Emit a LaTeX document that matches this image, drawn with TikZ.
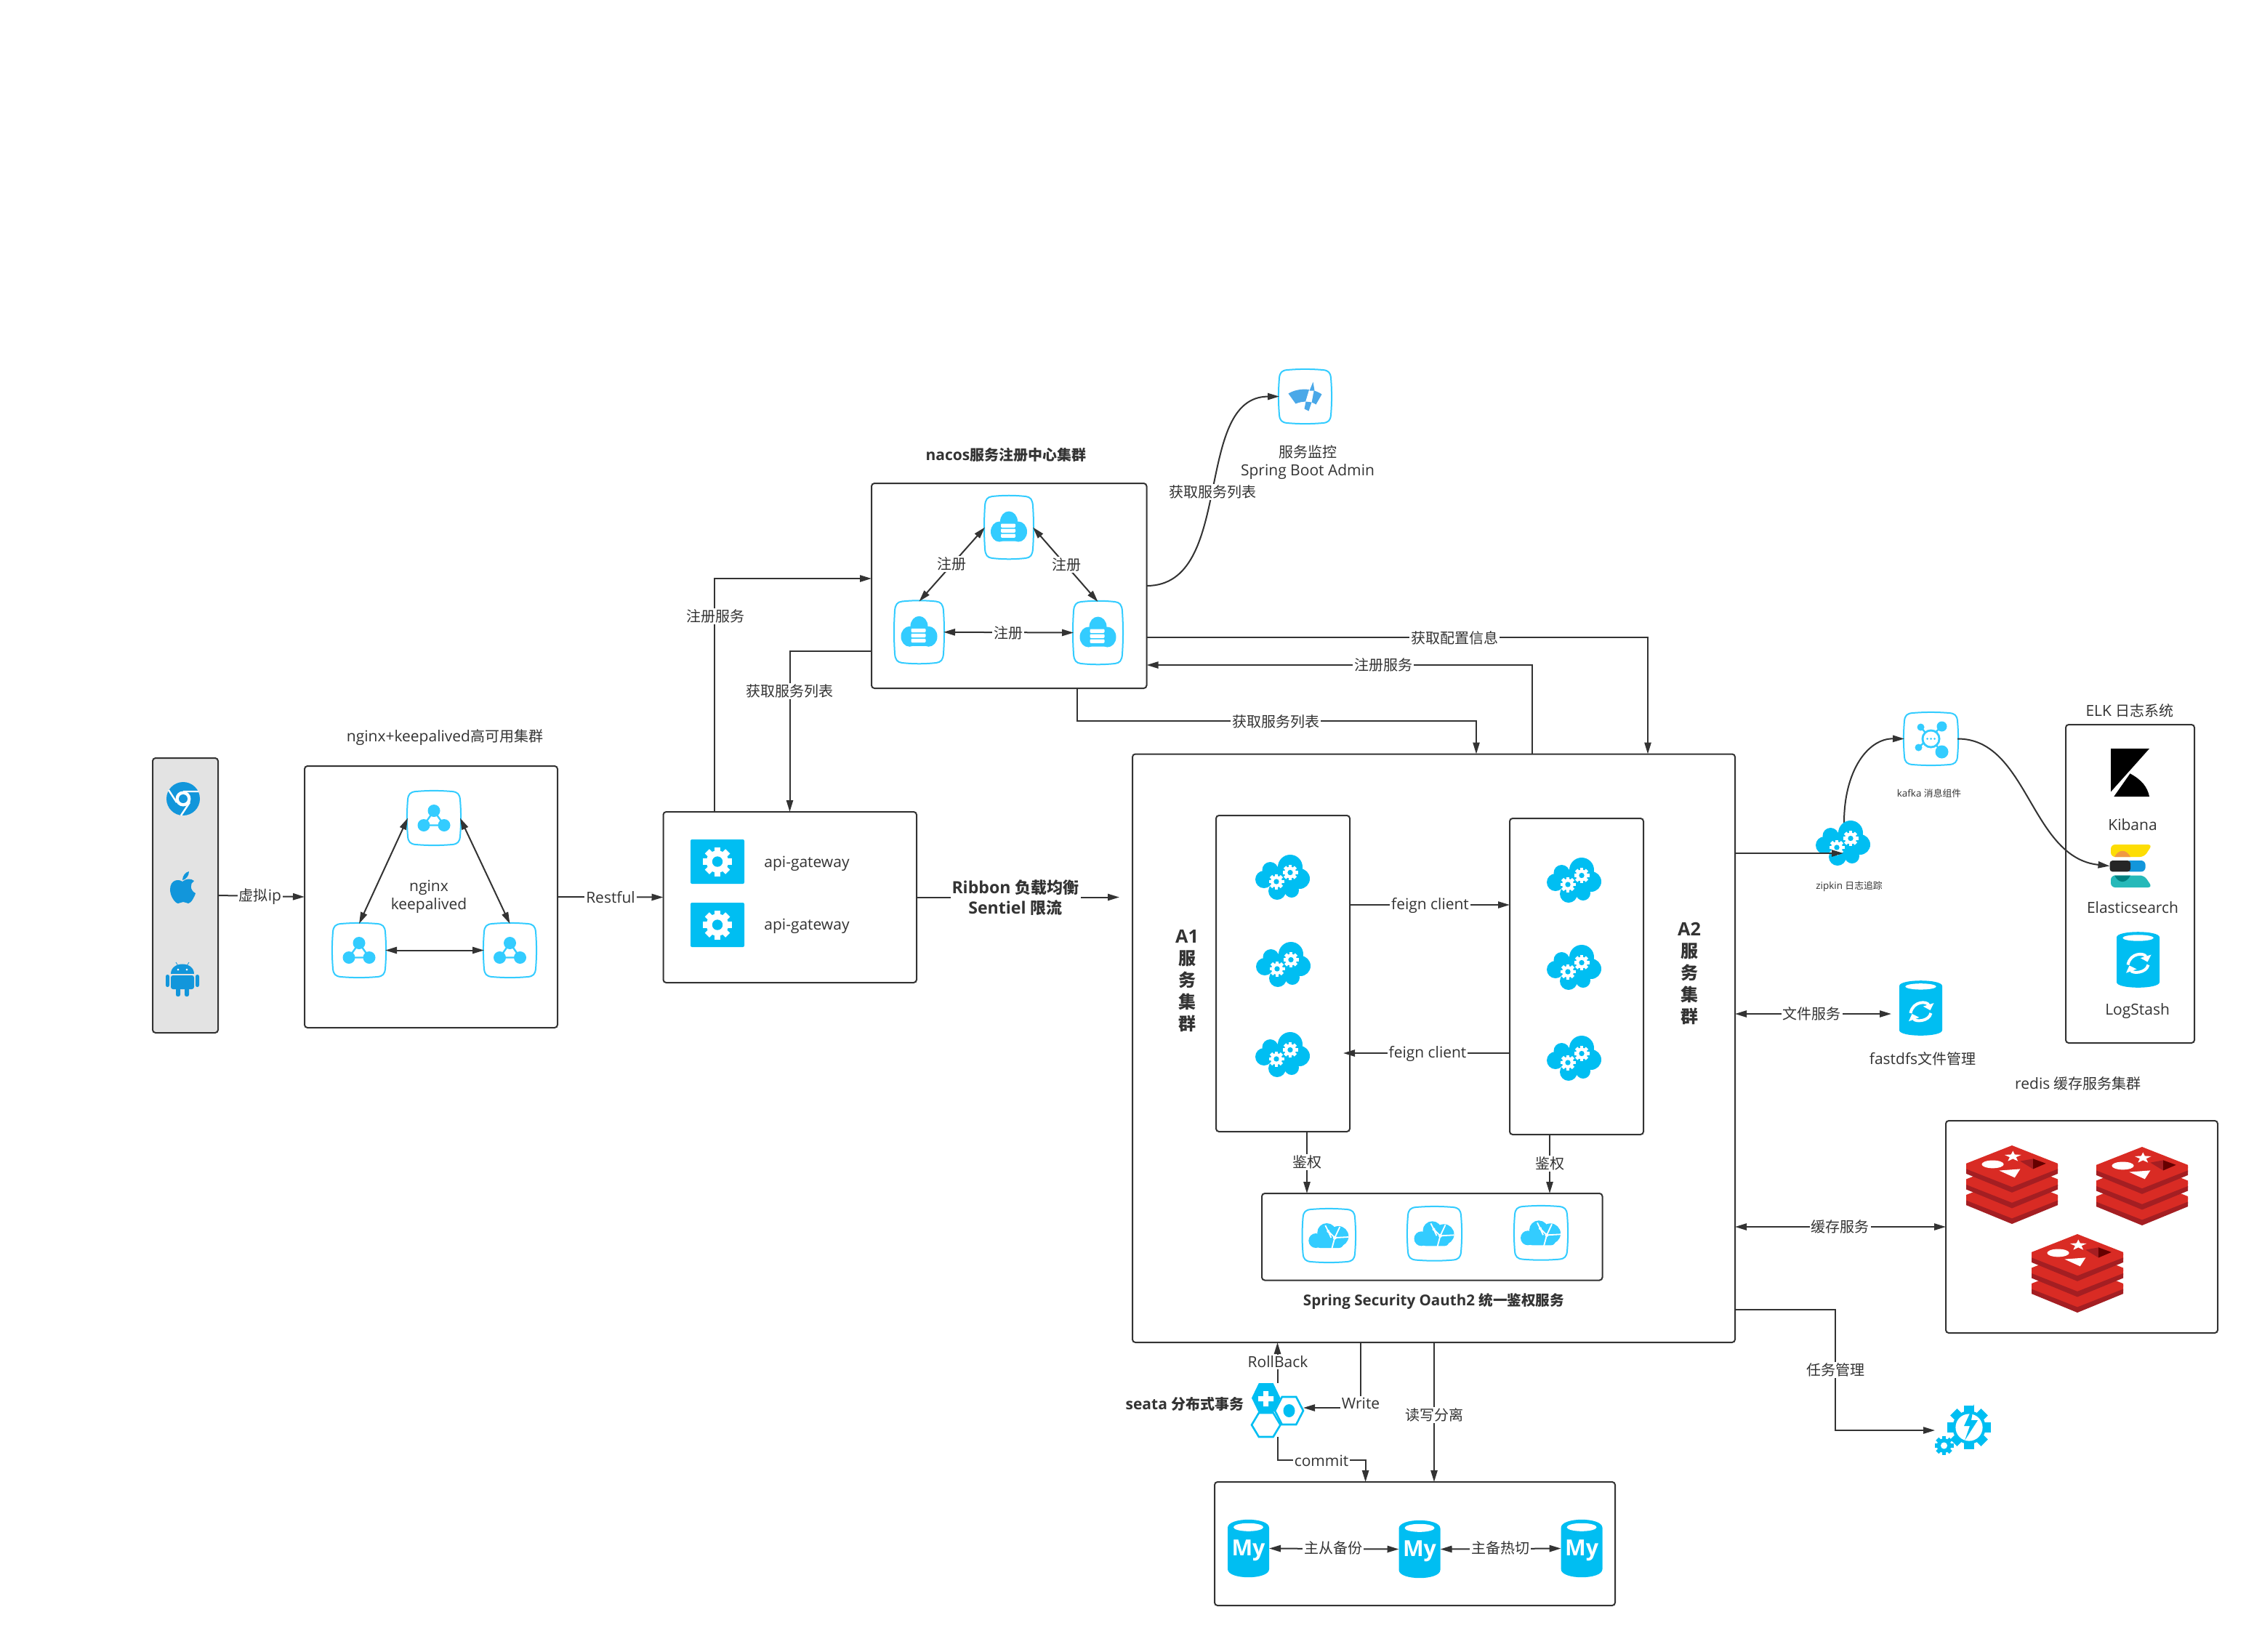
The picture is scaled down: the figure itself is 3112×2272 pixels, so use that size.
\documentclass[tikz,border=0pt]{standalone}
\usepackage{fontspec}
\setmainfont[Scale=1.05]{Open Sans}
\newfontfamily\cjk{Noto Sans CJK SC}
\newcommand\zh[1]{{\cjk #1}}
\usetikzlibrary{arrows.meta,calc}
\definecolor{txt}{HTML}{333333}
\definecolor{cyanb}{HTML}{00BEF2}
\definecolor{framec}{HTML}{33CCFF}
\definecolor{platc}{HTML}{1296DB}
\definecolor{monc}{HTML}{4AA8E8}
\definecolor{redisr}{HTML}{D92B24}
\definecolor{redisd}{HTML}{A41E22}
\tikzset{
 panel/.style={draw=txt,line width=1pt,rounded corners=2pt,fill=white,inner sep=0pt,outer sep=0pt},
 anchorbox/.style={inner sep=0pt,outer sep=0pt},
 conn/.style={draw=txt,line width=1pt,-{Triangle[length=8pt,width=4.6pt]}},
 both/.style={draw=txt,line width=1pt,{Triangle[length=8pt,width=4.6pt]}-{Triangle[length=8pt,width=4.6pt]}},
 lbl/.style={fill=white,inner sep=1pt,text=txt,font=\fontsize{10}{12}\selectfont},
 ttl/.style={inner sep=0pt,text=txt,align=center,font=\fontsize{10}{12.5}\selectfont},
 btl/.style={inner sep=0pt,text=txt,align=center,font=\bfseries\fontsize{10}{12.5}\selectfont},
 tiny/.style={inner sep=0pt,text=txt,font=\fontsize{6.4}{8}\selectfont},
 frameline/.style={draw=framec,line width=1pt,fill=white},
}
\newcommand\BX[6]{\node[#6,minimum width={(#4-#2)*0.5pt},minimum height={(#5-#3)*0.5pt}] (#1) at ({(#2+#4)/2},{(#3+#5)/2}) {};}
\newcommand\Frame[5]{%
 \BX{#1}{#2}{#3}{#4}{#5}{anchorbox}
 \begin{scope}[shift={(#2,#3)},xscale=#4-#2,yscale=#5-#3]
 \path[frameline] (.15,0) .. controls (.4,-.02) and (.6,-.02) .. (.85,0) .. controls (.95,.01) and (.99,.05) .. (1,.15) .. controls (1.02,.4) and (1.02,.6) .. (1,.85) .. controls (.99,.95) and (.95,.99) .. (.85,1) .. controls (.6,1.02) and (.4,1.02) .. (.15,1) .. controls (.05,.99) and (.01,.95) .. (0,.85) .. controls (-.02,.6) and (-.02,.4) .. (0,.15) .. controls (.01,.05) and (.05,.01) .. (.15,0) -- cycle;
 \end{scope}}
\newcommand\Gear[6]{%
 \begin{scope}[shift={(#1,#2)}]
 \foreach \a in {0,45,...,315}{\fill[#4,rotate=\a] (-.22*#3,0) rectangle (.22*#3,#3);}
 \fill[#4] (0,0) circle ({.76*#3});
 \fill[#5] (0,0) circle ({#6*#3});
 \end{scope}}
\newcommand\NginxIc[1]{%
 \begin{scope}[shift={(#1.center)}]
 \draw[framec,line width=1.2pt] (0,-10) -- (-14,10) -- (14,10) -- cycle;
 \fill[framec] (0,-10) circle (8.5) (-14,10) circle (8.5) (14,10) circle (8.5);
 \end{scope}}
\newcommand\NacosIc[1]{%
 \begin{scope}[shift={(#1.center)}]
 \fill[framec] (0,-8) ellipse (12 and 14) (-13,6) ellipse (12 and 14) (13,6) ellipse (12 and 14);
 \fill[framec,rounded corners=3pt] (-14,0) rectangle (14,19);
 \foreach \y in {-5,2,9}{\fill[white,rounded corners=.6pt] (-11,\y) rectangle (9,\y+5.4);}
 \end{scope}}
\newcommand\OauthIc[1]{%
 \begin{scope}[shift={(#1.center)}]
 \fill[framec] (-18,7) circle (10) (-3,-4) circle (13) (13,1) circle (14);
 \fill[framec,rounded corners=3pt] (-18,6) rectangle (20,17);
 \draw[white,line width=.9pt] (-5,-14) -- (-1,-6) -- (8,3) -- (27,2) (8,3) -- (4,18) (15,-12) -- (8,3) (-1,-6) -- (3,3);
 \fill[white] (-1,-6) circle (2) (8,3) circle (2.5);
 \end{scope}}
\newcommand\CloudGear[3]{%
 \BX{#1}{#2-37.5}{#3-31.5}{#2+37.5}{#3+31.5}{anchorbox}
 \begin{scope}[shift={(#2,#3)}]
 \fill[cyanb] (10,-14) circle (17) (-17.5,-10) circle (11) (-26,3) circle (12) (23,2) circle (14) (-8,19) circle (12) (12,18) circle (10) (0,2) circle (18);
 \Gear{-9}{6}{10.5}{white}{cyanb}{.35}
 \Gear{10}{-6.5}{10.5}{white}{cyanb}{.35}
 \end{scope}}
\newcommand\Cyl[5]{%
 \BX{#1}{#2}{#3}{#4}{#5}{anchorbox}
 \begin{scope}[shift={(#2,#3)},xscale=#4-#2,yscale=#5-#3]
 \fill[cyanb] (0,.1) .. controls (0,-.03) and (1,-.03) .. (1,.1) -- (1,.9) .. controls (1,1.03) and (0,1.03) .. (0,.9) -- cycle;
 \fill[white] (.5,.11) ellipse (.36 and .055);
 \end{scope}}
\newcommand\Sync[1]{%
 \begin{scope}[shift={(#1.center)},yshift=-2pt]
 \draw[white,line width=2pt,-{Triangle[length=4pt,width=7.5pt]}] (-14,3) .. controls (-11,-14) and (9,-14) .. (13,-1);
 \draw[white,line width=2pt,-{Triangle[length=4pt,width=7.5pt]}] (14,3) .. controls (11,15) and (-8,15) .. (-12,4);
 \end{scope}}
\newcommand\MyCyl[5]{%
 \BX{#1}{#2}{#3}{#4}{#5}{anchorbox}
 \begin{scope}[shift={(#2,#3)},xscale=#4-#2,yscale=#5-#3]
 \fill[cyanb] (0,.14) .. controls (0,-.05) and (1,-.05) .. (1,.14) -- (1,.86) .. controls (1,1.05) and (0,1.05) .. (0,.86) -- cycle;
 \fill[white] (.5,.13) ellipse (.36 and .07);
 \end{scope}}
\newcommand\Redis[2]{%
 \begin{scope}[shift={(#1,#2)},xscale=126,yscale=108]
 \foreach \o in {.4,.2,0}{
  \begin{scope}[shift={(0,\o)}]
  \fill[redisr] (0,.25) -- (0,.32) -- (.5,.56) -- (1,.32) -- (1,.25) -- cycle;
  \fill[redisd] (0,.30) -- (0,.36) -- (.5,.6) -- (1,.36) -- (1,.30) -- (.5,.53) -- cycle;
  \fill[redisr] (.5,0) -- (1,.23) -- (1,.27) -- (.5,.5) -- (0,.27) -- (0,.23) -- cycle;
  \end{scope}}
 \fill[white] (.29,.24) ellipse (.12 and .05);
 \fill[white] (.51,.07) -- (.53,.115) -- (.60,.12) -- (.545,.15) -- (.565,.2) -- (.51,.17) -- (.455,.2) -- (.475,.15) -- (.42,.12) -- (.49,.115) -- cycle;
 \fill[white] (.36,.32) -- (.59,.30) -- (.53,.41) -- cycle;
 \fill[redisd] (.59,.2) -- (.73,.17) -- (.87,.23) -- (.73,.3) -- cycle;
 \fill[red!40!black] (.73,.17) -- (.87,.23) -- (.73,.3) -- cycle;
 \end{scope}}
\newcommand\Hex[5]{%
 \begin{scope}[shift={(#1,#2)},xscale=#3,yscale=#4]
 \path[#5] (.25,0) -- (.75,0) -- (1,.5) -- (.75,1) -- (.25,1) -- (0,.5) -- cycle;
 \end{scope}}
\begin{document}
\begin{tikzpicture}[x=0.5pt,y=-0.5pt]
\useasboundingbox (0,0) rectangle (3112,2272);
\fill[white] (0,0) rectangle (3112,2272);

%% panels
\BX{client}{210}{1043}{300}{1421}{panel,fill=black!11}
\BX{ngbox}{419}{1054}{767}{1414}{panel}
\BX{api}{912.5}{1117}{1261}{1352}{panel}
\BX{nacos}{1199}{665}{1577.5}{947}{panel}
\BX{main}{1558}{1037.5}{2387}{1847}{panel}
\BX{aone}{1673}{1122}{1857}{1557}{panel}
\BX{atwo}{2077}{1126}{2261}{1561}{panel}
\BX{oauth}{1736}{1642}{2204.5}{1761.5}{panel}
\BX{elk}{2842}{997}{3019}{1435}{panel}
\BX{redis}{2677}{1542}{3051}{1834}{panel}
\BX{db}{1671}{2039}{2222}{2209}{panel}

%% client platform icons
\begin{scope}[shift={(252,1099)}]
 \fill[platc] (0,0) circle (23);
 \fill[white] (0,0) circle (10.5);
 \fill[platc] (0,0) circle (6);
 \draw[white,line width=1.2pt] (0,-10) -- (21,-10) (-9,5) -- (-20,-12) (9,5) -- (-3,23);
\end{scope}
\begin{scope}[shift={(251,1221)}]
 \fill[platc] (0,-8) .. controls (-5,-12) and (-17,-11) .. (-17,3) .. controls (-17,12) and (-10,22) .. (-6,22) .. controls (-3,22) and (-2,20) .. (1,20) .. controls (4,20) and (6,22) .. (8,22) .. controls (12,22) and (17,12) .. (18,8) .. controls (10,4) and (10,-6) .. (16,-9) .. controls (12,-13) and (4,-12) .. (0,-8) -- cycle;
 \fill[platc] (0,-10) .. controls (0,-16) and (4,-21) .. (9,-22) .. controls (9,-16) and (5,-11) .. (0,-10) -- cycle;
\end{scope}
\begin{scope}[shift={(251,1347)}]
 \fill[platc] (-16,-7) .. controls (-16,-25) and (16,-25) .. (16,-7) -- cycle;
 \fill[platc,rounded corners=1.5pt] (-16,-5) rectangle (16,14);
 \fill[platc,rounded corners=1.2pt] (-23,-6) rectangle (-18,11) (18,-6) rectangle (23,11) (-9,12) rectangle (-3,24) (3,12) rectangle (9,24);
 \draw[platc,line width=.4pt] (-9,-23) -- (-6,-18) (9,-23) -- (6,-18);
 \fill[white] (-6,-13) circle (1.5) (6,-13) circle (1.5);
\end{scope}

%% nginx cluster
\Frame{ngT}{561}{1089}{633}{1162}
\Frame{ngL}{458}{1271}{530}{1344}
\Frame{ngR}{666}{1271}{737}{1344}
\NginxIc{ngT}\NginxIc{ngL}\NginxIc{ngR}
\draw[both] (ngT.west) -- (ngL.north);
\draw[both] (ngT.east) -- (ngR.north);
\draw[both] (ngL.east) -- (ngR.west);
\node[ttl] (ngtxt) at (590,1234) {nginx\\keepalived};
\node[ttl] (ngtitle) at (612,1015) {nginx+keepalived\zh{高可用集群}};

%% api gateway
\BX{gwA}{950}{1155}{1024}{1216}{anchorbox,fill=cyanb,rounded corners=1pt}
\BX{gwB}{950}{1242}{1024}{1303}{anchorbox,fill=cyanb,rounded corners=1pt}
\Gear{987}{1185.5}{20}{white}{cyanb}{.36}
\Gear{987}{1272.5}{20}{white}{cyanb}{.36}
\node[ttl,anchor=west] (gwtA) at (1051,1188.5) {api-gateway};
\node[ttl,anchor=west] (gwtB) at (1051,1274.5) {api-gateway};

%% nacos cluster
\Frame{nT}{1355}{683}{1421}{768}
\Frame{nL}{1231}{827.5}{1298}{912}
\Frame{nR}{1477}{828}{1544}{913}
\NacosIc{nT}\NacosIc{nL}\NacosIc{nR}
\draw[both] (nT.west) -- (nL.north);
\draw[both] (nT.east) -- (nR.north);
\draw[both] (nL.east) -- (nR.west);
\node[lbl] (l1) at (1309,776) {\zh{注册}};
\node[lbl] (l2) at (1467,777) {\zh{注册}};
\node[lbl] (l3) at (1387,871) {\zh{注册}};
\node[btl] (natitle) at (1384,626) {nacos\zh{服务注册中心集群}};

%% monitor
\Frame{mon}{1760}{509}{1831}{582}
\begin{scope}[shift={(mon.center)}]
 \fill[monc] (-23,-4) .. controls (-10,-12) and (10,-12) .. (23,-3) -- (15,11) .. controls (8,6) and (-4,6) .. (-13,10) -- cycle;
 \fill[white] (7,-14) -- (13,-13) -- (7,19) -- (-2,16) -- cycle;
 \fill[monc] (11,-20) -- (13,-8) -- (6,-8) -- cycle;
 \fill[monc] (1,7) -- (9,8) -- (5,20) -- (-1,17) -- cycle;
\end{scope}
\node[ttl] (montxt) at (1799,636) {\zh{服务监控}\\Spring Boot Admin};

%% inner services
\CloudGear{a1}{1765}{1207}
\CloudGear{a2}{1766}{1327}
\CloudGear{a3}{1765}{1451}
\CloudGear{b1}{2166}{1211}
\CloudGear{b2}{2166}{1331}
\CloudGear{b3}{2166}{1456}
\node[btl,font=\bfseries\fontsize{12}{15}\selectfont] (aonet) at (1633,1350) {A1\\\zh{服}\\\zh{务}\\\zh{集}\\\zh{群}};
\node[btl,font=\bfseries\fontsize{12}{15}\selectfont] (atwot) at (2324,1339) {A2\\\zh{服}\\\zh{务}\\\zh{集}\\\zh{群}};
\coordinate (feignEnd) at (1848,1449);
\draw[conn] (aone.east |- 0,1245) -- (atwo.west |- 0,1245);
\draw[conn] (atwo.west |- 0,1449) -- (feignEnd);
\node[lbl] (lf1) at (1967.5,1246) {feign client};
\node[lbl] (lf2) at (1964,1450) {feign client};
\draw[conn] (aone.south -| 1798,0) -- (oauth.north -| 1798,0);
\draw[conn] (atwo.south -| 2132,0) -- (oauth.north -| 2132,0);
\node[lbl] (la1) at (1798,1599) {\zh{鉴权}};
\node[lbl] (la2) at (2132,1601) {\zh{鉴权}};
\Frame{oA}{1792.6}{1664}{1864}{1736}
\Frame{oB}{1937}{1661}{2010}{1733.6}
\Frame{oC}{2084}{1660}{2156}{1732.6}
\OauthIc{oA}\OauthIc{oB}\OauthIc{oC}
\node[btl,font=\bfseries\fontsize{9.8}{12}\selectfont] (oat) at (1972.5,1790) {Spring Security Oauth2 \zh{统一鉴权服务}};

%% left side connectors
\draw[conn] (client.east) -- (ngbox.west);
\node[lbl] (lvip) at (358,1234) {\zh{虚拟}ip};
\draw[conn] (ngbox.east) -- (api.west);
\node[lbl] (lrest) at (840,1235) {Restful};
\coordinate (ribbonEnd) at (1540,1234.5);
\draw[conn] (api.east) -- (ribbonEnd);
\node[lbl,align=center,font=\bfseries\fontsize{11}{14}\selectfont] (lrib) at (1397,1235) {Ribbon \zh{负载均衡}\\Sentiel \zh{限流}};
\draw[conn] (api.north -| 983,0) |- (nacos.west |- 0,796);
\draw[conn] (nacos.west |- 0,896) -| (api.north -| 1086.5,0);
\node[lbl] (lreg) at (984,848) {\zh{注册服务}};
\node[lbl] (lget) at (1086,951) {\zh{获取服务列表}};

%% nacos to monitor and main
\draw[conn] (nacos.east |- 0,806) .. controls (1700,806) and (1640,546) .. (mon.west);
\node[lbl] (lmon) at (1668,677) {\zh{获取服务列表}};
\draw[conn] (nacos.east |- 0,877) -| (main.north -| 2267,0);
\node[lbl] (lcfg) at (2001,878) {\zh{获取配置信息}};
\draw[conn] (main.north -| 2108,0) |- (nacos.east |- 0,915);
\node[lbl] (lreg2) at (1903,915) {\zh{注册服务}};
\draw[conn] (nacos.south -| 1482,0) |- (2031,992) -- (main.north -| 2031,0);
\node[lbl] (lget2) at (1755,993) {\zh{获取服务列表}};

%% zipkin, kafka, ELK
\Frame{kaf}{2620}{981}{2693}{1052}
\coordinate (zipTop) at (2537,1132);
\draw[conn] (zipTop) .. controls (2537,1060) and (2570,1016) .. (kaf.west);
\CloudGear{zip}{2536}{1160}
\node[tiny] (ziptxt) at (2544,1219.5) {zipkin \zh{日志追踪}};
\draw[conn] (main.east |- 0,1174) -- (zip.west |- 0,1174);
\begin{scope}[shift={(kaf.center)}]
 \draw[framec,line width=1.2pt] (-14,-16) -- (15,18) (15,-17) -- (-17,12);
 \fill[framec] (0,0) circle (13) (-14,-16) circle (5) (-17,12) circle (5) (15,-17) circle (7) (15,18) circle (9);
 \fill[white] (0,0) circle (10);
 \fill[framec] (-5,0) circle (1.5) (0,0) circle (1.5) (5,0) circle (1.5);
\end{scope}
\node[tiny] (kaftxt) at (2654,1092) {kafka \zh{消息组件}};
\BX{kib}{2904}{1030}{2957}{1096}{anchorbox}
\begin{scope}[shift={(2904,1030)},xscale=53,yscale=66]
 \fill[black] (0,0) -- (1,0) -- (0,.9) -- cycle;
 \fill[black] (.08,1) -- (.5,.52) .. controls (.8,.65) and (.95,.8) .. (1,1) -- cycle;
\end{scope}
\node[ttl] (kibt) at (2934,1135) {Kibana};
\BX{els}{2902.5}{1162}{2961}{1221}{anchorbox}
\fill[yellow!80!orange,rounded corners=3pt] (2904,1162) -- (2961,1162) -- (2950,1179) -- (2904,1179) -- cycle;
\fill[orange!70!brown!80] (2909,1179) .. controls (2915,1168) and (2925,1168) .. (2931,1179) -- cycle;
\fill[platc,rounded corners=3pt] (2925,1184) rectangle (2951.6,1199.4);
\fill[black!85,rounded corners=2pt] (2902.5,1184) rectangle (2931,1199.4);
\fill[teal!65!cyan!85,rounded corners=3pt] (2904,1204.5) -- (2950,1204.5) -- (2961,1221) -- (2904,1221) -- cycle;
\fill[teal] (2909,1204.5) .. controls (2915,1216) and (2925,1216) .. (2931,1204.5) -- cycle;
\node[ttl] (elst) at (2934,1249) {Elasticsearch};
\Cyl{logc}{2912}{1282}{2971}{1359}\Sync{logc}
\node[ttl] (logt) at (2940.6,1391) {LogStash};
\node[ttl] (elkt) at (2930,978) {ELK \zh{日志系统}};
\draw[conn] (kaf.east) .. controls (2790,1016) and (2793,1180) .. (els.west);

%% fastdfs
\Cyl{fdc}{2613}{1349}{2672}{1425}\Sync{fdc}
\coordinate (fdEnd) at (2602,1395);
\draw[both] (main.east |- 0,1395) -- (fdEnd);
\node[lbl] (lfile) at (2492.5,1395) {\zh{文件服务}};
\node[ttl] (fdt) at (2645,1456.6) {fastdfs\zh{文件管理}};

%% redis
\Redis{2705}{1576}
\Redis{2884}{1578}
\Redis{2795}{1698}
\node[ttl] (redt) at (2859,1491) {redis \zh{缓存服务集群}};
\draw[both] (main.east |- 0,1688) -- (redis.west |- 0,1688);
\node[lbl] (lcache) at (2531.5,1688) {\zh{缓存服务}};

%% task
\BX{task}{2662}{1934}{2737}{2002}{anchorbox}
\Gear{2709}{1964}{30}{cyanb}{white}{.62}
\Gear{2674.5}{1989}{13}{cyanb}{white}{.35}
\fill[cyanb] (2716,1932) -- (2702,1962) -- (2710,1962) -- (2703,1982) -- (2721,1954) -- (2712,1954) -- cycle;
\draw[conn] (main.east |- 0,1802) -| (2525,1968) -- (task.west |- 0,1968);
\node[lbl] (ltask) at (2525,1885) {\zh{任务管理}};

%% seata
\BX{seata}{1722}{1903}{1793}{1977}{anchorbox}
\Hex{1722}{1903}{39.5}{41}{fill=cyanb}
\Hex{1722}{1944}{39.5}{33}{draw=cyanb,line width=1.3pt,fill=white}
\Hex{1754}{1922}{39}{38}{draw=cyanb,line width=1.3pt,fill=white}
\fill[white] (1738,1914) rectangle (1745,1935) (1731,1921) rectangle (1752,1928);
\fill[cyanb] (1773.5,1941) ellipse (8 and 9);
\node[btl,font=\bfseries\fontsize{10}{12}\selectfont] (seat) at (1630,1932) {seata \zh{分布式事务}};
\draw[conn] (seata.north) -- (main.south -| seata.north);
\node[lbl] (lroll) at (1758,1874) {RollBack};
\draw[conn] (main.south -| 1872,0) |- (seata.east |- 0,1937);
\node[lbl] (lwrite) at (1872,1931) {Write};
\draw[conn] (main.south -| 1973,0) -- (db.north -| 1973,0);
\node[lbl] (lrw) at (1973,1947) {\zh{读写分离}};
\draw[conn] (seata.south) |- (1878.6,2009) -- (db.north -| 1878.6,0);
\node[lbl] (lcommit) at (1818,2010) {commit};

%% mysql
\MyCyl{my1}{1689}{2091}{1746}{2170}
\MyCyl{my2}{1924.5}{2092}{1981.5}{2171}
\MyCyl{my3}{2147.6}{2091}{2204.5}{2170}
\node[inner sep=0pt,text=white,font=\bfseries\fontsize{14.5}{15}\selectfont] (myt1) at (my1.center) [yshift=-1.5pt] {My};
\node[inner sep=0pt,text=white,font=\bfseries\fontsize{14.5}{15}\selectfont] (myt2) at (my2.center) [yshift=-1.5pt] {My};
\node[inner sep=0pt,text=white,font=\bfseries\fontsize{14.5}{15}\selectfont] (myt3) at (my3.center) [yshift=-1.5pt] {My};
\draw[both] (my1.east) -- (my2.west);
\draw[both] (my2.east) -- (my3.west);
\node[lbl] (lms) at (1834,2130) {\zh{主从备份}};
\node[lbl] (lhot) at (2064,2130) {\zh{主备热切}};
\end{tikzpicture}
\end{document}
